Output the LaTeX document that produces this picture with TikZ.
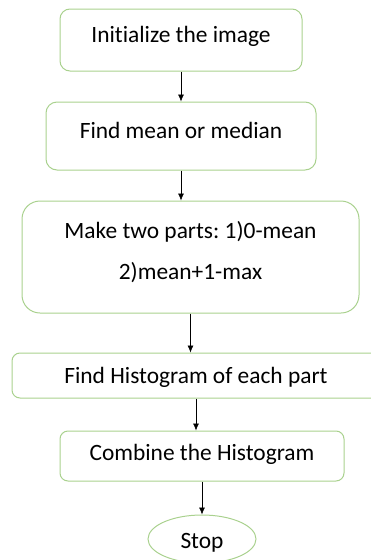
\documentclass[tikz,border=0pt]{standalone}
\usepackage{fontspec}
\setmainfont{Carlito}[Ligatures=NoCommon]
\usetikzlibrary{arrows.meta,shapes.geometric}
\definecolor{boxgreen}{RGB}{169,209,142}
\frenchspacing

\begin{document}
\begin{tikzpicture}[x=1pt,y=-1pt,
  txt/.style={font=\fontsize{23.4}{41.5}\selectfont},
  stepbox/.style={txt,draw=boxgreen,line width=1pt,inner sep=0pt,align=center},
  lift/.style={text height=16pt,text depth=#1},
  arr/.style={-{Latex[length=7pt,width=6pt]},line width=0.6pt}]
\useasboundingbox (0,0) rectangle (370,560);
% boxes
\node[stepbox,lift=11pt,rounded corners=10pt,minimum width=242pt,minimum height=62pt] (init) at (181,40) {Initialize the image};
\node[stepbox,lift=11pt,rounded corners=11pt,minimum width=270pt,minimum height=68pt] (mean) at (181,136) {Find mean or median};
\node[stepbox,text depth=13pt,rounded corners=18pt,minimum width=337pt,minimum height=112pt] (parts) at (190.5,257) {Make two parts: 1)0-mean\\2)mean+1-max};
\node[stepbox,lift=1pt,rounded corners=8pt,minimum width=368pt,minimum height=45pt] (hist) at (196,375.5) {Find Histogram of each part};
\node[stepbox,lift=7pt,rounded corners=8pt,minimum width=284pt,minimum height=50pt] (comb) at (202,456) {Combine the Histogram};
\node[stepbox,ellipse,text height=20pt,text depth=1pt,minimum width=108pt,minimum height=48pt] (stop) at (202,539) {Stop};
% arrows
\draw[arr] (init) -- (mean);
\draw[arr] (mean.south) -- (mean.south |- parts.north);
\draw[arr] (parts.south) -- (parts.south |- hist.north);
\draw[arr] (hist.south) -- (hist.south |- comb.north);
\draw[arr] (comb) -- (stop);
\end{tikzpicture}
\end{document}
